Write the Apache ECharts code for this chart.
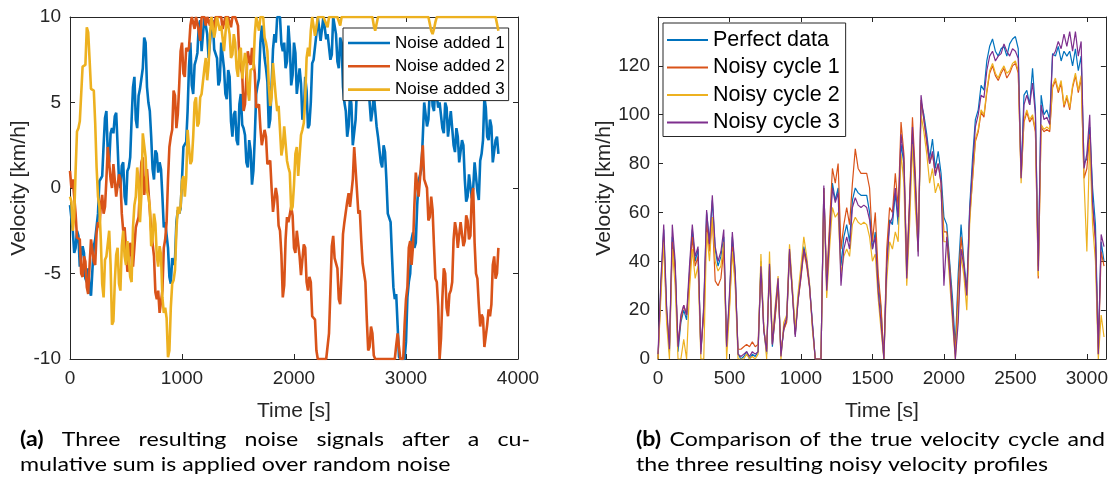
<!DOCTYPE html>
<html>
<head>
<meta charset="utf-8">
<script src="https://cdn.jsdelivr.net/npm/echarts@6/dist/echarts.min.js"></script>
<style>
  html, body { margin: 0; padding: 0; background: #fff; }
  #chart { width: 1111px; height: 490px; }
</style>
</head>
<body>
<div id="chart"></div>
<script>
// ---- (a) cumulative noise signals, sampled every NOISE_DT seconds ----
const NOISE_DT = 12.5;
const NOISE_NAMES = ['Noise added 1', 'Noise added 2', 'Noise added 3'];
const NOISE_1 = [
  -1, -0.9, -2.5, -3.8, -3.5, -2.5, -2.8, -4.6, -4.5, -3.4, -3.8, -5.3, -5.5, -4.7, -6, -6.3, -4.8, -3.4, -3, -3.0,
  -1.5, 0.4, 0.5, 0.7, 2.5, 4.1, 4.5, 2.0, 1.5, 3.2, 3.5, 3.2, 4.2, 4.4, 2.5, 0.4, 0, 1.3, 1.5, -0.5,
  -1, 1.0, 1.2, 1.8, 4, 5.9, 6.5, 4.0, 3.5, 5.4, 5.8, 5.8, 7, 8.8, 8.5, 5.9, 5, 4.5, 3, 1.1,
  0.5, 2.2, 2, 0.9, 1.5, 1.1, -0.5, -2.3, -2, -2.0, -3.5, -5.2, -5.6, -4.1, -4.5, -4.2, -2, -1.3, -1.5, -1.2,
  0.5, 2.4, 2.5, 2.7, 4.5, 7.1, 8.5, 6.0, 5.5, 7.2, 7.5, 7.9, 9.5, 9.8, 8, 8.1, 10, 10, 9, 7.6,
  7.5, 9.5, 9.8, 8.1, 8, 7.6, 6, 6.3, 8.5, 8.5, 7, 5.5, 5.2, 6.9, 6.5, 3.9, 3, 4.3, 4.5, 2.8,
  2.5, 4.9, 5.5, 3.7, 3.5, 3.1, 1.5, 1.2, 2.8, 2.2, 0.2, 1.0, 3, 5.5, 6, 6.4, 8.5, 9.5, 9.5, 7.6,
  7, 6.2, 3.5, 4.0, 6, 8.1, 9, 8.5, 10, 10, 10, 8.4, 8, 8.5, 7, 7.4, 9.5, 8.3, 6, 6.6,
  8.5, 7.9, 5.5, 5.5, 7, 6.1, 4, 4.3, 6.5, 5.7, 3.5, 3.7, 5, 7.3, 7.5, 7.4, 9, 10, 10, 8.6,
  8.5, 10, 10, 8.7, 9, 8.9, 7.5, 7.8, 10, 10, 9, 7.4, 7, 8.8, 8.5, 5.9, 5, 4.5, 3, 3.6,
  5.5, 4.9, 2.5, 2.5, 4, 5.9, 6.5, 6.5, 8.5, 8.0, 6, 6.2, 7.5, 7.3, 5, 3.9, 4.5, 5.5, 5.5, 3.6,
  3, 3.1, 1.5, 1.2, 2.5, 2.1, 0.5, -1.5, -1.5, -2.0, -4, -5.8, -6.5, -6.2, -8, -9.9, -10, -10, -10, -10,
  -9, -6.4, -5.5, -5.0, -3, -2.6, -3.5, -3.2, -1, 0.4, 0.5, 1.1, 3, 5.0, 5, 3.6, 4, 5.7, 6.5, 4.8,
  4.5, 6.1, 6, 4.7, 5, 4.9, 3.5, 3.2, 5, 4.7, 3, 3.1, 4.5, 4.5, 2.5, 2.1, 3.5, 3.0, 1.5, 1.4,
  2.8, 2.5, 0.5, -0.8, -0.5, 0.8, 0.8, -0.6, 0, 1.5, 1.5, -0.2, -0.7, 1.6, 2, 2.8, 5.3, 4.7, 3, 2.8,
  4, 3.6, 1.5, 1.4, 2.8, 3.0, 2
];
const NOISE_2 = [
  1, 0.0, 0.5, 0.4, -1.5, -2.9, -3, -3.0, -5, -5.2, -4, -4.3, -5.8, -6.2, -4.5, -3.0, -3, -4.3, -4.5, -2.6,
  -2, -2.3, -1, -0.4, -1.5, -1.1, 0.5, 2.4, 2.3, 0.5, 0, 1.4, 1.5, -0.5, -0.5, 0.8, 0.5, -1.5, -2.5, -2.3,
  -3.5, -4.9, -4.7, -3.2, -3.5, -4.6, -4.5, -2.3, -2, -1.7, 0, 1.5, 1.8, -0.4, -0.5, 1.1, 1, -1.3, -2.5, -2.6,
  -4, -6.1, -6.5, -6.0, -7.3, -7.3, -6, -3.5, -3, -2.0, 0.5, 2.4, 3, 3.4, 5.7, 5.4, 3.5, 4.3, 6, 8.0,
  8.5, 6.7, 6.5, 8.2, 8, 8.2, 9.5, 10, 10, 9.3, 10, 10, 9.2, 8.6, 10, 10, 10, 9.5, 10, 10,
  9.5, 10, 10, 9.2, 10, 10, 10, 10, 10, 9.3, 9.3, 10, 10, 10, 10, 9.4, 10, 10, 10, 10,
  9.5, 7.5, 7, 6.7, 4.5, 4.9, 6.5, 8.0, 7.5, 7.2, 8.2, 8.1, 6.7, 4.7, 4.7, 4.9, 3.5, 2.5, 2.4, 3.4,
  3, 1.4, 1.4, 1.6, 0, -1.4, -1.5, 0.0, -0.5, -2.2, -2.5, -3.9, -6.4, -5.7, -3, -1.7, -2, -2.1, -1.1, -1.6,
  -3.5, -3.8, -2.5, -2.4, -4, -5.1, -5, -3.3, -3.5, -5.5, -6, -5.2, -5.5, -7.5, -7.5, -7.7, -9.5, -10, -10, -10,
  -10, -10, -10, -10, -10, -8.5, -6, -3.4, -2.8, -4.1, -4, -4.7, -6.5, -6.8, -5, -2.7, -2, -1.9, -0.8, -0.3,
  -1.1, -1.1, 0.5, 2.4, 2.4, -0.2, -1.5, -1.3, -3, -4.4, -4.4, -5.5, -7.7, -9.5, -9.3, -8.1, -8.5, -9.8, -10, -10,
  -10, -10, -10, -10, -10, -10, -10, -10, -10, -10, -10, -10, -10, -9.2, -8.5, -9.3, -10, -10, -10, -8.0,
  -6.5, -5.8, -3.5, -3.1, -4.5, -3.4, -1, 0.9, 0.8, -0.5, -0.5, 1.6, 2.5, 0.5, 0.4, 0.0, -1.9, -1.7, -0.5, -1.3,
  -3.4, -5.3, -5.5, -6.9, -10, -8.8, -6.4, -4.7, -5, -7.0, -7.5, -6.2, -6, -5.5, -3, -2.0, -2.5, -3.5, -3.4, -2.0,
  -2, -3.4, -3.1, -1.6, -1.9, -3.0, -2.8, -0.4, 0, -3.2, -5, -5.3, -6.8, -8.1, -7.4, -7.6, -9.3, -9.2, -8, -7.1,
  -7.5, -6.8, -4.5, -4.0, -5.3, -5.0, -3.5
];
const NOISE_3 = [
  -0.5, -0.8, -2.5, -1.7, 1, 3.3, 3.5, 3.9, 5.5, 7.1, 7, 7.2, 9.4, 9.1, 7.5, 5.8, 5.7, 5.7, 3.8, 1.2,
  -0.5, -1.1, -3, -5.6, -6.4, -4.2, -4, -3.9, -2.5, -4.5, -8, -7.8, -5.5, -3.9, -3.5, -5.6, -6, -3.4, -2.5, -4.0,
  -4.5, -3.1, -3, -5.2, -5.5, -2.3, -1, -0.5, 1.2, 0.4, -2, -0.4, 3.2, 3.1, 1.8, -0.2, -0.5, -1.1, -3.4, -3.0,
  -1.5, -2.1, -4, -4.6, -3.4, -3.9, -6.4, -7.3, -7, -7.6, -9.9, -9.5, -7, -5.6, -5.4, -4.8, -2.5, -1.1, -1.5, -1.1,
  0.4, 0.7, -0.5, 0.6, 3.4, 3.4, 1.4, 1.6, 3, 5.0, 5.3, 3.6, 3.8, 5.3, 5.5, 5.5, 7, 7.6, 6.3, 7.2,
  9, 10, 10, 8.8, 9.3, 10, 10, 9.2, 9.5, 9.6, 8, 8.0, 10, 10, 9, 7.6, 7.8, 9.0, 8.5, 7.0,
  6.5, 8.0, 8.2, 6.4, 6.3, 7.9, 7.5, 5.7, 5.1, 6.9, 7, 7.0, 9, 10, 10, 9.2, 10, 10, 10, 8.8,
  8.5, 8.0, 6, 4.8, 5.3, 7.3, 7.3, 5.3, 4.5, 4.8, 3.4, 1.9, 2.4, 3.6, 3.5, 1.6, 1.2, 0.9, -1.3, -1.1,
  0.2, 2.0, 2.4, 0.7, 0.8, 3.1, 3.4, 3.8, 5.3, 7.6, 8.2, 7.7, 9.2, 10, 10, 8.9, 9.4, 10, 10, 10,
  10, 10, 10, 9.6, 9.4, 10, 10, 10, 10, 10, 10, 10, 10, 9.5, 10, 10, 10, 10, 10, 10,
  10, 10, 10, 10, 10, 10, 10, 10, 10, 10, 10, 10, 10, 10, 10, 10, 10, 9.5, 9.2, 9.6,
  10, 10, 10, 10, 10, 10, 10, 10, 10, 10, 10, 10, 10, 10, 10, 10, 10, 10, 10, 10,
  10, 10, 10, 10, 10, 10, 10, 10, 10, 10, 10, 10, 10, 10, 10, 10, 10, 9.6, 9.2, 9.0,
  9.3, 9.7, 10, 10, 10, 10, 10, 10, 10, 10, 10, 10, 10, 10, 10, 10, 10, 10, 10, 10,
  10, 10, 10, 10, 10, 10, 10, 10, 10, 10, 10, 10, 10, 10, 10, 10, 10, 10, 10, 10,
  10, 10, 10, 10, 10, 9.6, 9.2
];

// ---- (b) velocity cycle and its noisy versions, sampled every SPEED_DT seconds ----
const SPEED_DT = 20;
const SPEED_NAMES = ['Perfect data', 'Noisy cycle 1', 'Noisy cycle 2', 'Noisy cycle 3'];
const PERFECT = [
  0, 30, 53, 20, 3, 50, 38, 3, 15, 20,
  16, 35, 53, 40, 45, 3, 20, 60, 48, 65,
  45, 38, 42, 50, 5, 25, 50, 35, 2, 0,
  1, 3, 0, 2, 1, 3, 40, 12, 2, 38,
  5, 18, 32, 2, 12, 16, 44, 28, 10, 25,
  35, 46, 40, 30, 15, 0, 0, 0, 70, 30,
  52, 72, 65, 70, 38, 50, 55, 48, 65, 70,
  68, 67, 67, 67, 60, 45, 52, 32, 20, 0,
  40, 57, 55, 68, 55, 88, 80, 35, 62, 92,
  70, 44, 105, 100, 92, 82, 90, 78, 85, 76,
  58, 55, 40, 25, 5, 35, 55, 40, 28, 62,
  82, 98, 102, 112, 110, 122, 128, 131, 126, 124,
  127, 128, 124, 129, 131, 132, 127, 75, 108, 110,
  104, 119, 102, 38, 108, 100, 102, 98, 125, 124,
  128, 122, 126, 124, 126, 120, 127, 118, 124, 80,
  82, 95, 70, 55, 5, 48, 40
];
const NOISY_1 = [
  0, 28, 50, 18, 5, 48, 36, 6, 16, 22,
  18, 32, 50, 38, 42, 4, 18, 56, 44, 58,
  32, 30, 33, 45, 6, 22, 46, 32, 4, 4,
  5, 6, 5, 7, 5, 6, 37, 12, 4, 36,
  6, 17, 30, 3, 12, 15, 43, 27, 10, 24,
  33, 44, 38, 29, 14, 0, 0, 0, 70, 32,
  55, 78, 72, 80, 45, 55, 62, 55, 72, 86,
  78, 76, 76, 76, 70, 48, 60, 35, 22, 0,
  45, 62, 60, 76, 62, 97, 84, 38, 66, 99,
  76, 46, 106, 98, 88, 80, 84, 76, 80, 72,
  52, 52, 38, 20, 2, 30, 50, 38, 26, 58,
  73, 89, 93, 101, 99, 109, 117, 120, 116, 114,
  117, 119, 115, 117, 120, 121, 117, 74, 97, 101,
  97, 99, 93, 33, 95, 93, 94, 93, 111, 114,
  109, 113, 103, 107, 102, 111, 116, 109, 115, 74,
  78, 92, 62, 48, 2, 44, 38
];
const NOISY_2 = [
  0, 25, 48, 15, 0, 45, 30, 0, 0, 8,
  0, 28, 45, 33, 38, 0, 0, 52, 40, 58,
  40, 36, 38, 48, 0, 20, 44, 30, 0, 0,
  0, 2, 0, 1, 0, 2, 43, 14, 0, 44,
  8, 22, 34, 0, 15, 18, 47, 30, 12, 27,
  38, 50, 42, 31, 12, 0, 0, 0, 68, 25,
  45, 62, 58, 60, 35, 42, 45, 42, 55, 58,
  56, 55, 56, 55, 50, 40, 43, 25, 12, 0,
  32, 48, 45, 52, 48, 84, 72, 30, 55, 88,
  62, 44, 100, 93, 84, 72, 78, 68, 72, 68,
  48, 48, 32, 15, 0, 20, 42, 34, 20, 55,
  74, 90, 94, 102, 100, 110, 118, 121, 117, 115,
  118, 120, 117, 118, 121, 122, 118, 72, 98, 102,
  98, 100, 94, 34, 96, 94, 95, 94, 112, 115,
  110, 114, 104, 108, 103, 112, 117, 110, 116, 73,
  44, 90, 55, 40, 0, 18, 9
];
const NOISY_3 = [
  2, 32, 55, 22, 4, 55, 40, 5, 18, 22,
  18, 38, 55, 42, 46, 2, 22, 61, 47, 67,
  46, 40, 44, 53, 5, 27, 52, 36, 2, 1,
  2, 3, 1, 3, 2, 3, 38, 12, 3, 39,
  6, 20, 33, 1, 13, 17, 45, 27, 9, 24,
  34, 45, 40, 30, 14, 0, 0, 0, 71, 28,
  50, 70, 64, 68, 30, 45, 50, 45, 62, 66,
  63, 62, 63, 62, 57, 45, 50, 28, 15, 0,
  38, 55, 58, 70, 58, 92, 82, 33, 64, 95,
  72, 42, 108, 98, 90, 80, 85, 75, 80, 72,
  30, 50, 36, 18, 0, 15, 45, 38, 26, 60,
  78, 95, 100, 108, 107, 118, 124, 126, 122, 124,
  125, 129, 126, 124, 127, 126, 123, 74, 104, 108,
  104, 113, 100, 36, 104, 98, 99, 96, 124, 126,
  130, 127, 133, 128, 134, 126, 134, 124, 130, 78,
  84, 100, 64, 50, 2, 51, 46
];

// ---- captions under the two panels: [bold tag, text] per line ----
const CAPTION_A = [['(a)', 'Three resulting noise signals after a cu-'], ['', 'mulative sum is applied over random noise']];
const CAPTION_B = [['(b)', 'Comparison of the true velocity cycle and'], ['', 'the three resulting noisy velocity profiles']];

// MATLAB default colour order
const COLORS = ['#0072BD', '#D95319', '#EDB120', '#7E2F8E'];
const INK = '#262626';
const FONT = 'Liberation Sans, Arial, Helvetica, sans-serif';

const toPairs = (arr, dt) => arr.map((v, i) => [i * dt, v]);

function axis(gridIndex, position, range, withLabels, extra) {
  const horizontal = position === 'bottom' || position === 'top';
  return Object.assign({
    type: 'value',
    gridIndex: gridIndex,
    position: position,
    min: range[0], max: range[1], interval: range[2],
    axisLine: { show: true, onZero: false, lineStyle: { color: INK, width: 1 } },
    axisTick: { show: true, inside: true, length: 5, lineStyle: { color: INK, width: 1 } },
    splitLine: { show: false },
    axisLabel: {
      show: withLabels,
      color: INK, fontSize: 19, fontFamily: FONT,
      margin: horizontal ? 10 : 9,
      formatter: v => String(v)
    },
    nameTextStyle: { color: INK, fontSize: 21, fontFamily: FONT }
  }, extra || {});
}

const X_A = [0, 4000, 1000];
const Y_A = [-10, 10, 5];
const X_B = [0, 3133, 500];
const Y_B = [0, 140, 20];

const chart = echarts.init(document.getElementById('chart'), null, { renderer: 'canvas' });

const series = [];
[NOISE_1, NOISE_2, NOISE_3].forEach((arr, i) => {
  series.push({
    name: NOISE_NAMES[i], type: 'line', xAxisIndex: 0, yAxisIndex: 0,
    data: toPairs(arr, NOISE_DT), symbol: 'none', showSymbol: false,
    lineStyle: { width: 2.6, color: COLORS[i] }, itemStyle: { color: COLORS[i] },
    clip: true, animation: false, z: 2 + i
  });
});
[PERFECT, NOISY_1, NOISY_2, NOISY_3].forEach((arr, i) => {
  series.push({
    name: SPEED_NAMES[i], type: 'line', xAxisIndex: 2, yAxisIndex: 2,
    data: toPairs(arr, SPEED_DT), symbol: 'none', showSymbol: false,
    lineStyle: { width: 1.2, color: COLORS[i] }, itemStyle: { color: COLORS[i] },
    clip: true, animation: false, z: 2 + i
  });
});

// caption typesetting: words laid out one by one, first lines justified to the column width
const CAP_FONT = 'Lato, "Open Sans", sans-serif';
const CAP_SIZE = 20;
const measureCtx = document.createElement('canvas').getContext('2d');
function textWidth(str, weight) {
  measureCtx.font = weight + ' ' + CAP_SIZE + 'px ' + CAP_FONT;
  return measureCtx.measureText(str).width;
}
// horizontal glyph scale so that the last line of caption (b) keeps its printed length
const CAP_SCALE = 412 / textWidth(CAPTION_B[1][1], 'normal');

function captionLine(parts, x, y, justifyTo) {
  const words = [];
  if (parts[0]) words.push({ t: parts[0], bold: true });
  parts[1].split(' ').forEach(s => words.push({ t: s, bold: false }));
  const widths = words.map(w => textWidth(w.t, w.bold ? 'bold' : 'normal') * CAP_SCALE);
  let gap = textWidth(' ', 'normal') * CAP_SCALE;
  if (justifyTo) {
    const sum = widths.reduce((a, b) => a + b, 0);
    gap = (justifyTo - sum) / (words.length - 1);
  }
  const out = [];
  let cx = x;
  words.forEach((w, i) => {
    out.push({
      type: 'text', x: cx, y: y, scaleX: CAP_SCALE, silent: true,
      style: {
        text: w.t, fill: '#000', fontSize: CAP_SIZE, fontFamily: CAP_FONT,
        fontWeight: w.bold ? 'bold' : 'normal', verticalAlign: 'middle', align: 'left'
      }
    });
    cx += widths[i] + gap;
  });
  return out;
}

const legendBase = {
  orient: 'vertical', backgroundColor: '#fff', borderColor: INK, borderWidth: 1,
  borderRadius: 0, icon: 'rect', selectedMode: false
};

chart.setOption({
  animation: false,
  backgroundColor: '#fff',
  grid: [
    { left: 70, top: 17, width: 448, height: 342, containLabel: false },
    { left: 658, top: 17, width: 448, height: 342, containLabel: false }
  ],
  xAxis: [
    axis(0, 'bottom', X_A, true, { name: 'Time [s]', nameLocation: 'middle', nameGap: 42 }),
    axis(0, 'top', X_A, false),
    axis(1, 'bottom', X_B, true, { name: 'Time [s]', nameLocation: 'middle', nameGap: 42,
      axisLabel: { show: true, color: INK, fontSize: 19, fontFamily: FONT, margin: 10,
        showMaxLabel: false, formatter: v => String(v) } }),
    axis(1, 'top', X_B, false)
  ],
  yAxis: [
    axis(0, 'left', Y_A, true, { name: 'Velocity [km/h]', nameLocation: 'middle', nameGap: 38 }),
    axis(0, 'right', Y_A, false),
    axis(1, 'left', Y_B, true, { name: 'Velocity [km/h]', nameLocation: 'middle', nameGap: 43,
      axisLabel: { show: true, color: INK, fontSize: 19, fontFamily: FONT, margin: 8,
        showMaxLabel: false, formatter: v => String(v) } }),
    axis(1, 'right', Y_B, false)
  ],
  legend: [
    Object.assign({}, legendBase, {
      data: NOISE_NAMES, left: 343, top: 28, padding: [5, 4, 1, 5],
      itemWidth: 42, itemHeight: 2.6, itemGap: 3.3,
      textStyle: { fontSize: 17, fontFamily: FONT, color: '#000', lineHeight: 20 }
    }),
    Object.assign({}, legendBase, {
      data: SPEED_NAMES, left: 663, top: 23, padding: [5, 6, 2, 4],
      itemWidth: 41, itemHeight: 2, itemGap: 3.5,
      textStyle: { fontSize: 21.5, fontFamily: FONT, color: '#000', lineHeight: 24 }
    })
  ],
  series: series,
  graphic: [].concat(
    captionLine(CAPTION_A[0], 20, 440, 510),
    captionLine(CAPTION_A[1], 20, 465, null),
    captionLine(CAPTION_B[0], 636, 440, 469),
    captionLine(CAPTION_B[1], 636, 465, null)
  )
});
</script>
</body>
</html>
